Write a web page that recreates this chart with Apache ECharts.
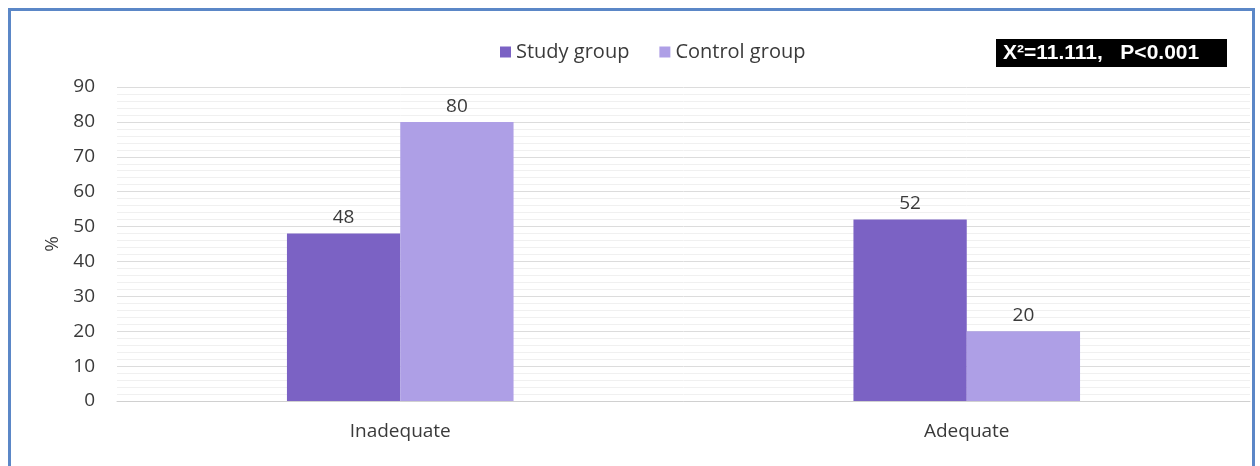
<!DOCTYPE html>
<html>
<head>
<meta charset="utf-8">
<script src="https://cdn.jsdelivr.net/npm/echarts@6/dist/echarts.min.js"></script>
<style>
  html, body { margin: 0; padding: 0; background: #ffffff; }
  #frame { position: absolute; left: 8px; top: 8px; width: 1247px; height: 470px;
           border: 3px solid #5b87c7; border-bottom: none; box-sizing: border-box; }
  #chart { position: absolute; left: 0; top: 0; width: 1260px; height: 466px; }
</style>
</head>
<body>
<div id="frame"></div>
<div id="chart"></div>
<script>
// Knowledge level per group (%)
const categories = ['Inadequate', 'Adequate'];
const studyGroup = [48, 52];
const controlGroup = [80, 20];
const seriesNames = ['Study group', 'Control group'];
const statText = 'X²=11.111,   P<0.001';

const font = 'Open Sans';
const chart = echarts.init(document.getElementById('chart'), null, { renderer: 'canvas' });

const labelStyle = { show: true, position: 'top', color: '#3a3a3a', fontSize: 19, fontFamily: font, distance: 6 };

chart.setOption({
  animation: false,
  textStyle: { fontFamily: font },
  legend: {
    data: seriesNames,
    top: 37,
    left: 495,
    itemWidth: 11,
    itemHeight: 11,
    itemGap: 30,
    icon: 'rect',
    textStyle: { color: '#3a3a3a', fontSize: 20, fontFamily: font }
  },
  graphic: [{
    type: 'group',
    left: 996,
    top: 39,
    children: [
      { type: 'rect', shape: { x: 0, y: 0, width: 231, height: 28 }, style: { fill: '#000000' } },
      { type: 'text', x: 7, y: 4, style: { text: statText, fill: '#ffffff', font: 'bold 21px "Liberation Sans", Arial, sans-serif' } }
    ]
  }],
  grid: { left: 117, right: 10, top: 87, bottom: 65 },
  xAxis: {
    type: 'category',
    data: categories,
    axisTick: { show: false },
    axisLine: { lineStyle: { color: '#d0d0d0', width: 1 } },
    axisLabel: { color: '#3a3a3a', fontSize: 19, fontFamily: font, margin: 21 }
  },
  yAxis: {
    type: 'value',
    min: 0,
    max: 90,
    interval: 10,
    name: '%',
    nameLocation: 'middle',
    nameGap: 52,
    nameRotate: 90,
    nameTextStyle: { color: '#3a3a3a', fontSize: 19, fontFamily: font },
    axisLine: { show: false },
    axisTick: { show: false },
    axisLabel: { color: '#3a3a3a', fontSize: 19, fontFamily: font, margin: 22 },
    splitLine: { lineStyle: { color: '#dcdcdc', width: 1 } },
    minorTick: { show: false, splitNumber: 5 },
    minorSplitLine: { show: true, lineStyle: { color: '#f0f0f0', width: 1 } }
  },
  series: [
    {
      name: seriesNames[0],
      type: 'bar',
      data: studyGroup,
      barWidth: '20%',
      barGap: '0%',
      itemStyle: { color: '#7b62c4' },
      label: labelStyle
    },
    {
      name: seriesNames[1],
      type: 'bar',
      data: controlGroup,
      barWidth: '20%',
      barGap: '0%',
      itemStyle: { color: '#ae9fe6' },
      label: labelStyle
    }
  ]
});
</script>
</body>
</html>
